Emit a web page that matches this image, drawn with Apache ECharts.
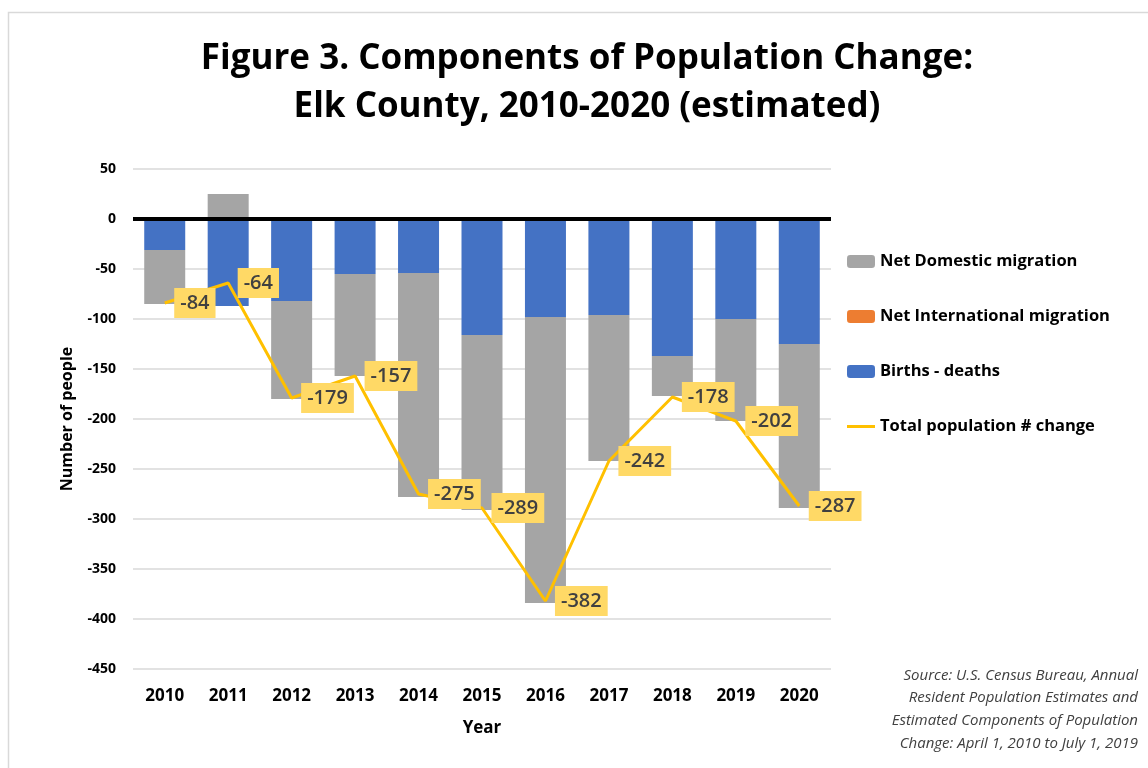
<!DOCTYPE html>
<html>
<head>
<meta charset="utf-8">
<script src="https://cdn.jsdelivr.net/npm/echarts@6/dist/echarts.min.js"></script>
<style>html,body{margin:0;padding:0;background:#fff}#c{width:1148px;height:768px}</style>
</head>
<body>
<div id="c"></div>
<script>
const years = ['2010','2011','2012','2013','2014','2015','2016','2017','2018','2019','2020'];
const birthsDeaths = [-31, -87, -82, -55, -54, -116, -98, -96, -137, -100, -125];
const netDomestic = [-54, 25, -98, -102, -224, -175, -286, -146, -40, -102, -164];
const netInternational = [0, 0, 0, 0, 0, 2, 2, 0, 0, 0, 0];
const totalChange = [-84, -64, -179, -157, -275, -289, -382, -242, -178, -202, -287];
const yTicks = [50, 0, -50, -100, -150, -200, -250, -300, -350, -400, -450];

const FONT = '"Open Sans", "DejaVu Sans", sans-serif';
const chart = echarts.init(document.getElementById('c'), null, {renderer: 'canvas'});
chart.setOption({
  animation: false,
  textStyle: {fontFamily: FONT},
  title: {
    text: 'Figure 3. Components of Population Change:\nElk County, 2010-2020 (estimated)',
    left: 582, top: 30, textAlign: 'center',
    textStyle: {fontFamily: FONT, fontSize: 35, fontWeight: 'bold', color: '#000', lineHeight: 48}
  },
  graphic: [
    {type: 'rect', left: 6, top: 10, shape: {width: 1200, height: 800}, style: {fill: 'none', stroke: '#d9d9d9', lineWidth: 1.5}, silent: true, z: -1},
    {type: 'text', right: 10, top: 664, style: {
      text: 'Source: U.S. Census Bureau, Annual\nResident Population Estimates and\nEstimated Components of Population\nChange: April 1, 2010 to July 1, 2019',
      font: 'italic 15px ' + FONT, fill: '#404040', textAlign: 'right', lineHeight: 22.7}}
  ],
  legend: {
    orient: 'vertical', left: 842, top: 248, itemGap: 38, itemWidth: 28, itemHeight: 13,
    data: [
      {name: 'Net Domestic migration'},
      {name: 'Net International migration'},
      {name: 'Births - deaths'},
      {name: 'Total population # change', icon: 'path://M0,0h28v3h-28z'}
    ],
    textStyle: {fontFamily: FONT, fontSize: 16.5, fontWeight: 'bold', color: '#000'}
  },
  grid: {left: 133, right: 317, top: 169, bottom: 99},
  xAxis: {
    type: 'category', data: years,
    name: 'Year', nameLocation: 'middle', nameGap: 51,
    nameTextStyle: {fontFamily: FONT, fontSize: 17, fontWeight: 'bold', color: '#000'},
    axisLine: {show: false}, axisTick: {show: false},
    axisLabel: {fontFamily: FONT, fontSize: 17, fontWeight: 'bold', color: '#000', margin: 19}
  },
  yAxis: {
    type: 'value', min: -450, max: 50, interval: 50,
    name: 'Number of people', nameLocation: 'middle', nameGap: 58, nameRotate: 90,
    nameTextStyle: {fontFamily: FONT, fontSize: 16, fontWeight: 'bold', color: '#000'},
    axisLine: {show: false}, axisTick: {show: false},
    axisLabel: {fontFamily: FONT, fontSize: 14, fontWeight: 'bold', color: '#000', margin: 17,
      customValues: yTicks},
    splitLine: {lineStyle: {color: '#d9d9d9', width: 1.5}}
  },
  series: [
    {name: 'Births - deaths', type: 'bar', stack: 'c', data: birthsDeaths, barWidth: 41,
      itemStyle: {color: '#4472C4'},
      markLine: {silent: true, symbol: 'none', label: {show: false},
        lineStyle: {color: '#000', width: 4, type: 'solid'}, data: [{yAxis: 0}], z: 10}},
    {name: 'Net Domestic migration', type: 'bar', stack: 'c', data: netDomestic, barWidth: 41,
      itemStyle: {color: '#A5A5A5'}},
    {name: 'Net International migration', type: 'bar', stack: 'c', data: netInternational, barWidth: 41,
      itemStyle: {color: '#ED7D31'}},
    {name: 'Total population # change', type: 'line', data: totalChange, symbol: 'none', z: 20,
      lineStyle: {color: '#FFC000', width: 3}, itemStyle: {color: '#FFC000'}},
    {name: 'labels', type: 'scatter', data: totalChange, symbolSize: 1, z: 30,
      itemStyle: {color: 'rgba(0,0,0,0)', opacity: 1}, silent: true,
      label: {show: true, position: 'right', distance: 9, fontFamily: FONT, fontSize: 20,
        fontWeight: 600, color: '#404040', backgroundColor: '#FFD966', padding: [6, 6, 4, 6]}}
  ]
});
</script>
</body>
</html>
